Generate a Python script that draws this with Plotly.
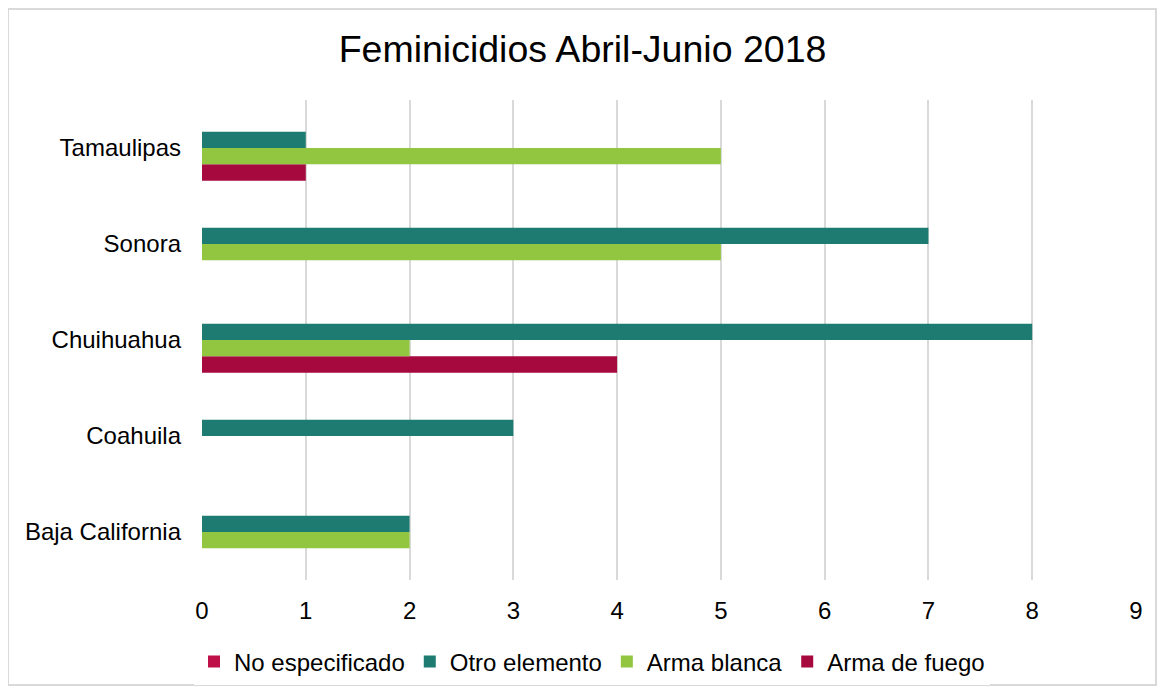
import plotly.graph_objects as go

estados = ["Baja California", "Coahuila", "Chuihuahua", "Sonora", "Tamaulipas"]

no_especificado = [0, 0, 0, 0, 0]
otro_elemento = [2, 3, 8, 7, 1]
arma_blanca = [2, 0, 2, 5, 5]
arma_fuego = [0, 0, 4, 0, 1]

x_ticks = list(range(0, 10))

# plotly draws the first trace at the bottom of each group, so add them bottom-up
series = [
    ("Arma de fuego", arma_fuego, "#A5093E"),
    ("Arma blanca", arma_blanca, "#92C640"),
    ("Otro elemento", otro_elemento, "#1E7B72"),
    ("No especificado", no_especificado, "#C0104A"),
]

fig = go.Figure()
for name, vals, color in series:
    fig.add_trace(go.Bar(
        y=estados,
        x=vals,
        name=name,
        orientation="h",
        marker=dict(color=color, line=dict(width=0)),
    ))

# the page body adds an 8px margin, so the figure is a bit smaller than the window
fig.update_layout(
    width=1149,
    height=678,
    barmode="group",
    bargap=0.32,
    bargroupgap=0,
    plot_bgcolor="white",
    paper_bgcolor="white",
    font=dict(family="Liberation Sans, Arial, sans-serif", size=24, color="#000000"),
    title=dict(
        text="Feminicidios Abril-Junio 2018",
        x=0.5,
        xanchor="center",
        y=1 - 41 / 678,
        yanchor="middle",
        font=dict(size=37.5, color="#000000"),
    ),
    margin=dict(l=194, r=21, t=92, b=106, autoexpand=False),
    legend=dict(
        orientation="h",
        traceorder="reversed",
        xref="container",
        yref="container",
        x=584 / 1149,
        xanchor="center",
        y=24 / 678,
        yanchor="middle",
        font=dict(size=24),
        itemwidth=30,
    ),
    xaxis=dict(
        range=[0, 9],
        tickvals=x_ticks,
        showgrid=True,
        gridcolor="#D9D9D9",
        gridwidth=2,
        zeroline=False,
        showline=False,
        ticks="",
        ticklabelstandoff=14,
    ),
    yaxis=dict(
        showgrid=False,
        showline=False,
        ticks="",
        ticklabelstandoff=20,
    ),
    shapes=[dict(
        type="rect",
        xref="paper", yref="paper",
        x0=-194 / 934, x1=1 + 20 / 934,
        y0=-105 / 480, y1=1 + 91 / 480,
        line=dict(color="#D9D9D9", width=2),
        fillcolor="rgba(0,0,0,0)",
        layer="below",
    )],
)

fig.write_html("out.html")
